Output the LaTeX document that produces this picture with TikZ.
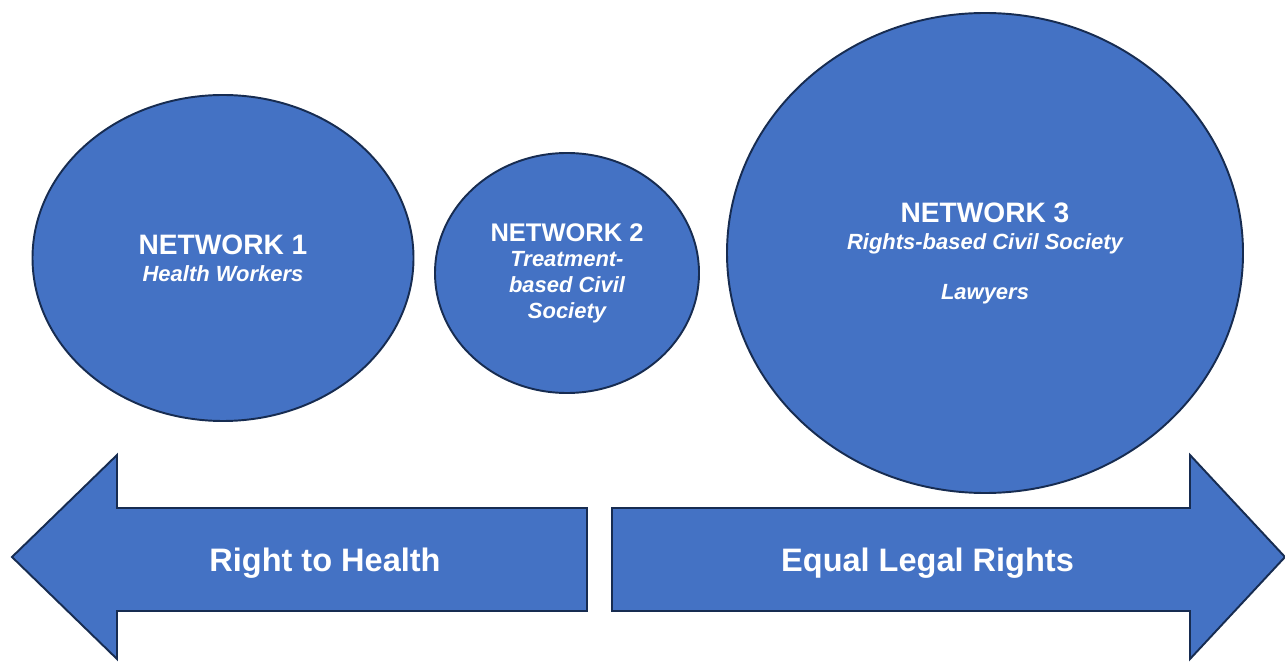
\documentclass[tikz,border=0pt]{standalone}
\usepackage{fontspec}
\setmainfont{Liberation Sans}
\usepackage{tikz}
\usepackage{tkz-euclide}
\usepackage{xcolor}
\usetikzlibrary{shapes.geometric}

\definecolor{azul}{HTML}{4472C4}
\definecolor{contorno}{HTML}{172C51}

\begin{document}
\begin{tikzpicture}[
  rede/.style={ellipse, draw=contorno, fill=azul, line width=1.1pt, text=white, align=center, inner sep=0pt,
    font=\bfseries\itshape\fontsize{12.5}{15.4}\selectfont},
  seta/.style={draw=contorno, fill=azul, line width=1.1pt, line join=miter},
  rotulo/.style={text=white, font=\bfseries\fontsize{18.5}{22}\selectfont, anchor=base}
] %define os estilos das redes (elipses), das setas e dos rótulos das setas

%Fixa o tamanho da figura (largura x altura) para manter as proporções da imagem original
\useasboundingbox (0,0) rectangle (25.7,-13.26);

%O comando \tkzDefPoints define os vértices das duas setas. Os pontos são definidos pelas coordenadas (x/y/NomedoPonto)
\tkzDefPoints{
0.24/-11.14/PE,
2.34/-9.1/CE1,
2.34/-10.16/HE1,
11.74/-10.16/FE1,
11.74/-12.22/FE2,
2.34/-12.22/HE2,
2.34/-13.18/CE2,
12.24/-10.16/FD1,
23.8/-10.16/HD1,
23.8/-9.1/CD1,
25.7/-11.14/PD,
23.8/-13.18/CD2,
23.8/-12.22/HD2,
12.24/-12.22/FD2}

%Rede 1: elipse da esquerda, com o título em negrito e o grupo em itálico.
%---------------------------------------------------
\node[rede, minimum width=7.62cm, minimum height=6.52cm] (rede1) at (4.46,-5.16)
  {{\upshape\fontsize{16}{15.4}\selectfont NETWORK 1}\\ Health Workers};
%---------------------------------------------------

%Rede 2: elipse menor do meio, com o texto quebrado em três linhas.
%---------------------------------------------------
\node[rede, minimum width=5.28cm, minimum height=4.8cm, font=\bfseries\itshape\fontsize{12.5}{14.6}\selectfont] (rede2) at (11.34,-5.46)
  {{\upshape\fontsize{14.5}{14.6}\selectfont NETWORK 2}\\ Treatment-\\ based Civil\\ Society};
%---------------------------------------------------

%Rede 3: elipse maior da direita, com uma linha em branco antes de "Lawyers".
%---------------------------------------------------
\node[rede, minimum width=10.32cm, minimum height=9.6cm] (rede3) at (19.7,-5.06)
  {{\upshape\fontsize{16}{15.4}\selectfont NETWORK 3}\\ Rights-based Civil Society\\[13pt] Lawyers};
%---------------------------------------------------

%Seta da esquerda: do ponto PE (ponta) contorna o corpo até voltar à ponta.
%---------------------------------------------------
\draw[seta] (PE) -- (CE1) -- (HE1) -- (FE1) -- (FE2) -- (HE2) -- (CE2) -- cycle;
\node[rotulo] (saude) at (6.5,-11.42) {Right to Health};
%---------------------------------------------------

%Seta da direita: do ponto FD1 (início do corpo) contorna até a ponta PD e volta.
%---------------------------------------------------
\draw[seta] (FD1) -- (HD1) -- (CD1) -- (PD) -- (CD2) -- (HD2) -- (FD2) -- cycle;
\node[rotulo] (direitos) at (18.55,-11.42) {Equal Legal Rights};
%---------------------------------------------------

\end{tikzpicture}
\end{document}
